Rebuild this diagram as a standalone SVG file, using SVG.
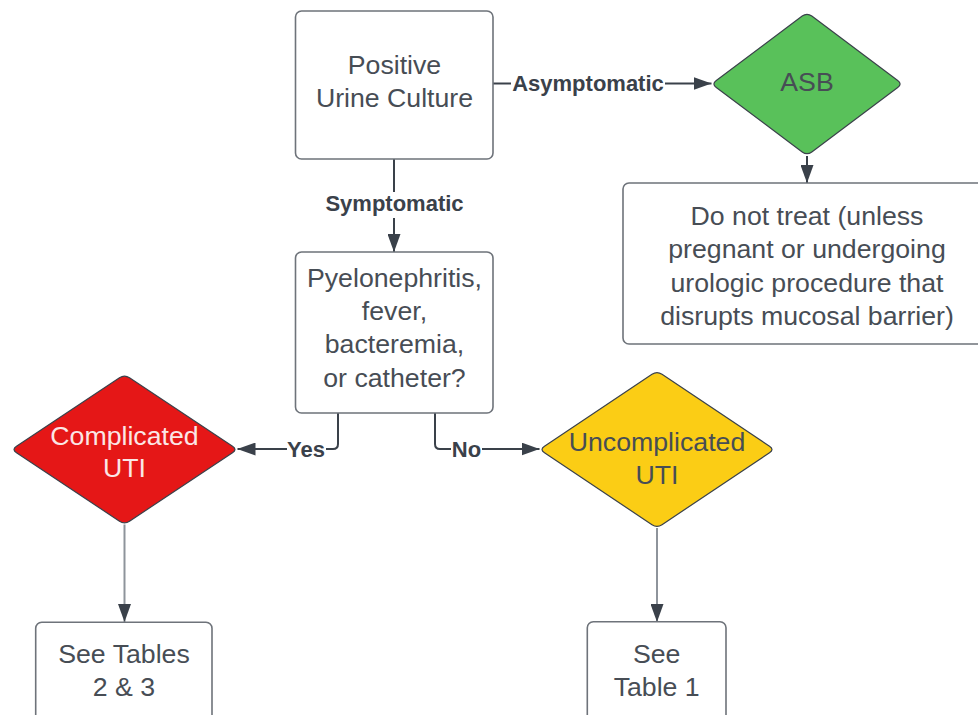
<svg xmlns="http://www.w3.org/2000/svg" width="978" height="715" viewBox="0 0 978 715">
<defs>
<style>
.box{fill:#ffffff;stroke:#6e737a;stroke-width:1.6}
.dia{stroke:#3a414a;stroke-width:1.2}
.t{font-family:"Liberation Sans",Arial,sans-serif;font-size:26.7px;fill:#474d55;text-anchor:middle}
.lbl{font-family:"Liberation Sans",Arial,sans-serif;font-size:22px;font-weight:bold;fill:#3a414a;text-anchor:middle}
.c{fill:none;stroke:#3a414a;stroke-width:2}
.cl{fill:none;stroke:#8e949b;stroke-width:2}
</style>
<marker id="ah" markerUnits="userSpaceOnUse" markerWidth="18" markerHeight="13" refX="18" refY="6.5" orient="auto">
<path d="M0,0 L18,6.5 L0,13 Z" fill="#3a414a"/>
</marker>
</defs>
<rect width="978" height="715" fill="#ffffff"/>
<g id="connectors">
<path class="c" d="M493,83.5 L511,83.5"/>
<path class="c" d="M665,83.5 L711.5,83.5" marker-end="url(#ah)"/>
<text class="lbl" x="588" y="91">Asymptomatic</text>
<path class="c" d="M394,159 L394,192"/>
<path class="c" d="M394,218 L394,252" marker-end="url(#ah)"/>
<text class="lbl" x="394.5" y="211">Symptomatic</text>
<path class="c" d="M338,413 L338,444 Q338,449 333,449 L326,449"/>
<path class="c" d="M287,449 L237.5,449" marker-end="url(#ah)"/>
<text class="lbl" x="306" y="457">Yes</text>
<path class="c" d="M435,413 L435,444 Q435,449 440,449 L451,449"/>
<path class="c" d="M482,449 L539.5,449" marker-end="url(#ah)"/>
<text class="lbl" x="466.5" y="457">No</text>
<path class="c" d="M807,156 L807,183" marker-end="url(#ah)"/>
<path class="cl" d="M124.5,524.5 L124.5,622" marker-end="url(#ah)"/>
<path class="cl" d="M657,528 L657,622" marker-end="url(#ah)"/>
</g>
<g id="positive">
<rect class="box" x="295.5" y="11" width="197.5" height="148" rx="6"/>
<text class="t" x="394.5" y="74">Positive</text>
<text class="t" x="394.5" y="107">Urine Culture</text>
</g>
<g id="asb">
<path class="dia" fill="#59c15a" d="M716.3,80.4 L802.2,16.1 Q807,12.5 811.8,16.1 L897.7,80.4 Q902.5,84 897.7,87.6 L811.8,151.9 Q807,155.5 802.2,151.9 L716.3,87.6 Q711.5,84 716.3,80.4 Z"/>
<text class="t" x="807" y="91">ASB</text>
</g>
<g id="donottreat">
<rect class="box" x="623" y="183" width="368" height="161" rx="6"/>
<text class="t" x="807" y="225">Do not treat (unless</text>
<text class="t" x="807" y="258.3">pregnant or undergoing</text>
<text class="t" x="807" y="291.7">urologic procedure that</text>
<text class="t" x="807" y="325">disrupts mucosal barrier)</text>
</g>
<g id="question">
<rect class="box" x="295.5" y="252" width="197.5" height="161" rx="6"/>
<text class="t" x="394.5" y="286.7">Pyelonephritis,</text>
<text class="t" x="394.5" y="320">fever,</text>
<text class="t" x="394.5" y="353.3">bacteremia,</text>
<text class="t" x="394.5" y="386.7">or catheter?</text>
</g>
<g id="complicated">
<path class="dia" fill="#e51717" d="M16.5,446.2 L119.5,377.8 Q124.5,374.5 129.5,377.8 L232.5,446.2 Q237.5,449.5 232.5,452.8 L129.5,521.2 Q124.5,524.5 119.5,521.2 L16.5,452.8 Q11.5,449.5 16.5,446.2 Z"/>
<text class="t" x="124.5" y="445" style="fill:#fbe6e6">Complicated</text>
<text class="t" x="124.5" y="477.3" style="fill:#fbe6e6">UTI</text>
</g>
<g id="uncomplicated">
<path class="dia" fill="#fbcd15" d="M544.5,446.2 L652,374.3 Q657,371 662,374.3 L769.5,446.2 Q774.5,449.5 769.5,452.8 L662,524.7 Q657,528 652,524.7 L544.5,452.8 Q539.5,449.5 544.5,446.2 Z"/>
<text class="t" x="657" y="450.7">Uncomplicated</text>
<text class="t" x="657" y="484">UTI</text>
</g>
<g id="tables23">
<rect class="box" x="35.7" y="622.3" width="176.3" height="120" rx="6"/>
<text class="t" x="124" y="663.3">See Tables</text>
<text class="t" x="124" y="695.7">2 &amp; 3</text>
</g>
<g id="table1">
<rect class="box" x="587.3" y="621.7" width="138.7" height="120" rx="6"/>
<text class="t" x="656.7" y="663.3">See</text>
<text class="t" x="656.7" y="696">Table 1</text>
</g>
</svg>
